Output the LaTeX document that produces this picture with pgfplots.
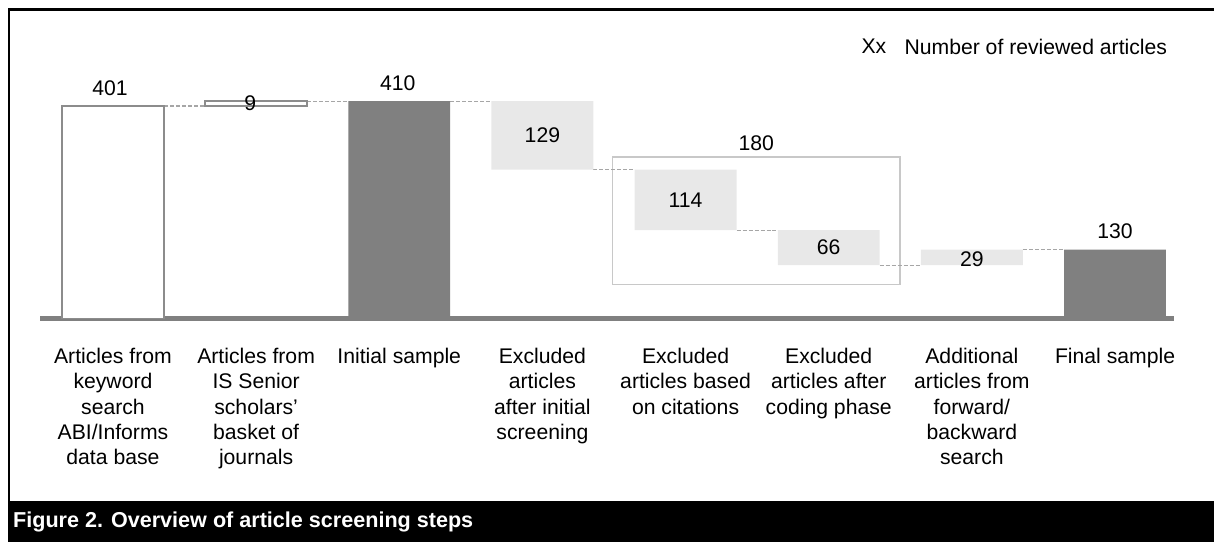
\documentclass[border=0pt]{standalone}
\usepackage{fontspec}
\setmainfont{Liberation Sans}[BoldFont={Liberation Sans Bold}, ItalicFont={Liberation Sans Italic}, BoldItalicFont={Liberation Sans Bold Italic}]
\usepackage{pgfplots}
\pgfplotsset{compat=1.18}
\definecolor{darkbar}{HTML}{808080}
\definecolor{lightbar}{HTML}{E8E8E8}
\definecolor{outlinegray}{HTML}{8C8C8C}
\definecolor{boxgray}{HTML}{C8C8C8}
\definecolor{dashgray}{HTML}{A6A6A6}
\newcommand{\chartfont}{\fontsize{10.6}{12.75}\selectfont}
\newcommand{\capfont}{\fontsize{10.8}{13}\selectfont\bfseries}
\begin{document}
\begin{tikzpicture}
\begin{axis}[
  scale only axis, width=607.5pt, height=159.5pt,
  xmin=-0.789, xmax=7.690, ymin=0, ymax=600.8,
  enlargelimits=false, clip=false,
  axis line style={draw=none}, tick style={draw=none},
  ytick=\empty,
  xtick={0,1,2,3,4,5,6,7},
  xticklabels={
    {Articles from\\keyword\\search\\ABI/Informs\\data base},
    {Articles from\\IS Senior\\scholars'\\basket of\\journals},
    {Initial sample},
    {Excluded\\articles\\after initial\\screening},
    {Excluded\\articles based\\on citations},
    {Excluded\\articles after\\coding phase},
    {Additional\\articles from\\forward/\\backward\\search},
    {Final sample}},
  xticklabel style={align=center, font=\chartfont, anchor=north, yshift=-11pt},
  ybar stacked, bar width=0.712,
]
% invisible offsets of the floating bars
\addplot[draw=none, fill=none] coordinates {(0,0) (1,401) (2,0) (3,281) (4,167) (5,101) (6,101) (7,0)};
% light grey: excluded / additional
\addplot[draw=none, fill=lightbar] coordinates {(0,0) (1,0) (2,0) (3,129) (4,114) (5,66) (6,29) (7,0)};
% dark grey: totals
\addplot[draw=none, fill=darkbar] coordinates {(0,0) (1,0) (2,410) (3,0) (4,0) (5,0) (6,0) (7,130)};
% white outlined: sources
\addplot[draw=outlinegray, fill=white, line width=0.75pt] coordinates {(0,401) (1,9)};

% connectors
\addplot[sharp plot, stack plots=false, no marks, dashgray, line width=0.6pt, dash pattern=on 2pt off 1pt] coordinates {(0.356,401) (0.644,401)};
\addplot[sharp plot, stack plots=false, no marks, dashgray, line width=0.6pt, dash pattern=on 2pt off 1pt] coordinates {(1.356,410) (1.644,410)};
\addplot[sharp plot, stack plots=false, no marks, dashgray, line width=0.6pt, dash pattern=on 2pt off 1pt] coordinates {(2.356,410) (2.644,410)};
\addplot[sharp plot, stack plots=false, no marks, dashgray, line width=0.6pt, dash pattern=on 2pt off 1pt] coordinates {(3.356,281) (3.644,281)};
\addplot[sharp plot, stack plots=false, no marks, dashgray, line width=0.6pt, dash pattern=on 2pt off 1pt] coordinates {(4.356,167) (4.644,167)};
\addplot[sharp plot, stack plots=false, no marks, dashgray, line width=0.6pt, dash pattern=on 2pt off 1pt] coordinates {(5.356,101) (5.644,101)};
\addplot[sharp plot, stack plots=false, no marks, dashgray, line width=0.6pt, dash pattern=on 2pt off 1pt] coordinates {(6.356,130) (6.644,130)};

% baseline
\draw[darkbar, line width=2.5pt] (axis cs:-0.509,0) -- (axis cs:7.411,0);
% bracket box for 180
\draw[boxgray, line width=0.75pt] (axis cs:3.489,64) rectangle (axis cs:5.499,305);

% anchor points for text and frame (drawn after the axis)
\coordinate (v0) at (axis cs:-0.02,435);
\coordinate (v1) at (axis cs:0.96,407);
\coordinate (v2) at (axis cs:1.99,443);
\coordinate (v3) at (axis cs:3,345.5);
\coordinate (v4) at (axis cs:4,224);
\coordinate (v5) at (axis cs:5,134);
\coordinate (v6) at (axis cs:6,112);
\coordinate (v7) at (axis cs:7,164);
\coordinate (v180) at (axis cs:4.494,330);
\coordinate (kx) at (axis cs:5.227,513);
\coordinate (kt) at (axis cs:5.527,513);
\coordinate (frTR) at (axis cs:7.690,582.9);
\coordinate (frTL) at (axis cs:-0.726,582.9);
\coordinate (frBL) at (axis cs:-0.726,-344.6);
\coordinate (capTL) at (axis cs:-0.733,-344.6);
\coordinate (capBR) at (axis cs:7.690,-421.8);
\coordinate (capText) at (axis cs:-0.700,-384);

\path (axis cs:-0.789,-421.8) rectangle (axis cs:7.690,600.8);
\end{axis}

% value labels
\node at (v0) {\chartfont 401};
\node at (v1) {\chartfont 9};
\node at (v2) {\chartfont 410};
\node at (v3) {\chartfont 129};
\node at (v4) {\chartfont 114};
\node at (v5) {\chartfont 66};
\node at (v6) {\chartfont 29};
\node at (v7) {\chartfont 130};
\node at (v180) {\chartfont 180};

% key
\node[anchor=west, inner sep=0pt] at (kx) {\chartfont Xx};
\node[anchor=west, inner sep=0pt] at (kt) {\chartfont Number of reviewed articles};

% frame and caption
\draw[black, line width=1.2pt] (frTR) -- (frTL) -- (frBL);
\fill[black] (capTL) rectangle (capBR);
\node[text=white, anchor=west, inner sep=0pt] at (capText) {\capfont Figure 2. Overview of article screening steps};
\end{tikzpicture}
\end{document}
